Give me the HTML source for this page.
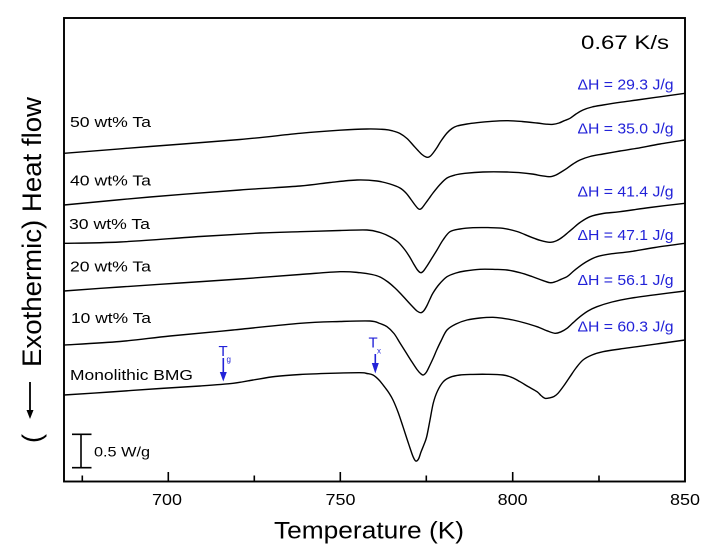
<!DOCTYPE html>
<html><head><meta charset="utf-8"><style>
html,body{margin:0;padding:0;background:#fff;}
svg{display:block;}
text{font-family:"Liberation Sans",Arial,sans-serif;}
</style></head><body>
<svg id="chart" width="718" height="552" viewBox="0 0 718 552" xmlns="http://www.w3.org/2000/svg">
<rect width="718" height="552" fill="#fff"/>
<!-- frame -->
<rect x="64" y="18" width="621" height="463.5" fill="none" stroke="#000" stroke-width="1.9"/>
<!-- ticks -->
<g stroke="#000" stroke-width="1.6">
<line x1="82.3" y1="481" x2="82.3" y2="475.5"/>
<line x1="168.3" y1="481" x2="168.3" y2="472"/>
<line x1="254.3" y1="481" x2="254.3" y2="475.5"/>
<line x1="340.3" y1="481" x2="340.3" y2="472"/>
<line x1="426.3" y1="481" x2="426.3" y2="475.5"/>
<line x1="512.7" y1="481" x2="512.7" y2="472"/>
<line x1="599" y1="481" x2="599" y2="475.5"/>
</g>
<g font-size="16" fill="#000" text-anchor="middle">
<text x="167" y="505" textLength="30" lengthAdjust="spacingAndGlyphs">700</text>
<text x="340.5" y="505" textLength="30" lengthAdjust="spacingAndGlyphs">750</text>
<text x="512.7" y="505" textLength="30" lengthAdjust="spacingAndGlyphs">800</text>
<text x="685" y="505" textLength="30" lengthAdjust="spacingAndGlyphs">850</text>
</g>
<text x="274" y="538.5" font-size="24" textLength="190" lengthAdjust="spacingAndGlyphs">Temperature (K)</text>

<!-- y label -->
<g transform="translate(41,445) rotate(-90)">
<text x="2" y="0" font-size="27">(</text>
<line x1="33" y1="-11" x2="63" y2="-11" stroke="#000" stroke-width="1.8"/>
<polygon points="26,-11 35,-14.5 35,-7.5" fill="#000"/>
<text x="78" y="0" font-size="27" textLength="270" lengthAdjust="spacingAndGlyphs">Exothermic) Heat flow</text>
</g>

<!-- rate -->
<text x="581" y="49" font-size="19.5" textLength="88" lengthAdjust="spacingAndGlyphs">0.67 K/s</text>

<!-- series labels -->
<g font-size="15" fill="#000">
<text x="70" y="127" textLength="81" lengthAdjust="spacingAndGlyphs">50 wt% Ta</text>
<text x="70" y="185.5" textLength="81" lengthAdjust="spacingAndGlyphs">40 wt% Ta</text>
<text x="69" y="229" textLength="81" lengthAdjust="spacingAndGlyphs">30 wt% Ta</text>
<text x="70" y="271.5" textLength="81" lengthAdjust="spacingAndGlyphs">20 wt% Ta</text>
<text x="71" y="323" textLength="80" lengthAdjust="spacingAndGlyphs">10 wt% Ta</text>
<text x="70" y="380" textLength="123" lengthAdjust="spacingAndGlyphs">Monolithic BMG</text>
</g>

<!-- dH labels -->
<g font-size="15" fill="#2222d8">
<text x="577.5" y="89.5" textLength="96" lengthAdjust="spacingAndGlyphs">ΔH = 29.3 J/g</text>
<text x="577.5" y="133.3" textLength="96" lengthAdjust="spacingAndGlyphs">ΔH = 35.0 J/g</text>
<text x="577.5" y="196.7" textLength="96" lengthAdjust="spacingAndGlyphs">ΔH = 41.4 J/g</text>
<text x="577.5" y="240" textLength="96" lengthAdjust="spacingAndGlyphs">ΔH = 47.1 J/g</text>
<text x="577.5" y="285" textLength="96" lengthAdjust="spacingAndGlyphs">ΔH = 56.1 J/g</text>
<text x="577.5" y="331.7" textLength="96" lengthAdjust="spacingAndGlyphs">ΔH = 60.3 J/g</text>
</g>

<!-- Tg / Tx -->
<g fill="#2222d8">
<text x="218.5" y="356" font-size="15">T</text>
<text x="226.5" y="362" font-size="8">g</text>
<line x1="223.3" y1="358" x2="223.3" y2="374" stroke="#2222d8" stroke-width="1.6"/>
<polygon points="219.8,372 226.8,372 223.3,381.5"/>
<text x="368.5" y="347.3" font-size="15">T</text>
<text x="377" y="353.5" font-size="8">x</text>
<line x1="375.3" y1="354" x2="375.3" y2="365" stroke="#2222d8" stroke-width="1.6"/>
<polygon points="371.8,363 378.8,363 375.3,373.5"/>
</g>

<!-- scale bar -->
<g stroke="#000" stroke-width="1.6">
<line x1="81" y1="434.3" x2="81" y2="467.7"/>
<line x1="72" y1="434.3" x2="91.5" y2="434.3"/>
<line x1="72" y1="467.7" x2="91.5" y2="467.7"/>
</g>
<text x="94" y="456.5" font-size="14" textLength="56" lengthAdjust="spacingAndGlyphs">0.5 W/g</text>

<!-- curves -->
<g id="curves" fill="none" stroke="#000" stroke-width="1.4" stroke-linejoin="round" stroke-linecap="round">
<polyline points="64,153.3 150,146.5 240,139.5 300,133.3 340,130.2 367,129 385,129.5 393,131 400,133.5 407,138.5 413,145 418,150.5 422,154.5 425.5,156.8 428,157.3 430.5,156 433.5,152.5 437,147.5 441,141 447,133 452,128.5 457,126 467,124 477,122.7 492,121.3 507,120.7 522,121.5 537,123 547,124.2 553,124.3 559,123 564,120.8 570,118.3 576,114 583,110 592,107 603,105 620,102.3 637,100 660,96.8 685,93.3"/>
<polyline points="64,205 150,197 240,190 300,186 330,182.5 357,180 377,181 390,184 400,188 406,193 411,199.5 415,205 418,208.5 420,209.3 422,208 425,204 429,198.5 433,193 440,184.5 447,178 455,175 465,173.3 483,172 507,172 520,172.7 532,174 542,175.8 550,176.7 556,175 562,171.5 567,168.3 573,164 580,160 590,156.5 603,154 620,151 637,148.3 660,144 685,140"/>
<polyline points="64,243.3 120,242 200,236.5 260,233 300,231.7 340,230.5 367,230 380,232.5 390,236.7 398,242 405,250 410,257.5 414,264.5 417.5,270 420.7,272.7 423.5,271 427,266 432,258 437,250 443,240 450,231.7 460,229 473,227.7 488,227.6 503,228.3 517,231.5 530,236.7 540,240.3 550,242.3 557,240.5 563,236.7 568,232.5 573,228.3 580,222.5 590,216.7 603,213.5 620,211.7 650,207.5 685,203.3"/>
<polyline points="64,291 120,287 180,283 240,279 300,274.5 340,271.7 360,272.7 372,274.5 380,277 388,282 395,288 400,293 406,299.5 412,306 417,311 421,312.7 424,310.5 427,305.5 430,299 433,293 439,284.5 447,276.7 456,273 465,271 480,269.3 495,269.4 507,270 520,272.7 532,276.5 540,279.5 550,282.7 556,281.5 561,279.3 567,276.7 572,272.5 577,268.3 586,262 597,256.7 612,253.7 630,251.7 655,247.5 685,243.3"/>
<polyline points="64,345 120,341.5 170,336 233,330 300,323.3 340,321.5 370,321 380,323.5 387,326.7 394,333.5 400,343 406,352.5 412,362 417,369.5 420.5,373.5 423.3,375 426.5,372 430,365 433.5,357.5 436.7,350 441,341 447,330 456,324 467,320 480,318 493,317.3 503,318.3 513,320 525,323 537,326.7 547,330.8 555,333.3 561,331.8 567,328.3 573,322.8 580,316.7 588,311 597,306.7 612,302 630,298.3 655,294.8 685,291"/>
<polyline points="64,395 110,392 160,388.5 200,386 233,383.3 253,380 275,376.5 300,374.5 330,373.3 360,372.7 367,373.5 373,375 379,380 385,387.5 389,393 393,400 398,412 403,426.7 407,439 410,448 413,456.5 415.7,461 418.5,459 421,452 424,444.5 426.7,436.7 430,420 433.3,403 437.5,391 443.3,381.7 450,377.3 460,375 473,374.4 486.7,374.3 503,375 512,377.5 520,381.7 528,386.5 537,391.7 541,395.5 545,398.3 550,397.8 554,396.5 558,393.3 564,385.5 570,376.7 576,368 583,360 592,355 603,351.7 620,349 637,346.7 660,343.5 685,340"/>
</g>
</svg>
<script>
(function(){
  try{
    var NS="http://www.w3.org/2000/svg";
    var g=document.getElementById("curves");
    var pls=Array.prototype.slice.call(g.getElementsByTagName("polyline"));
    pls.forEach(function(pl){
      var raw=pl.getAttribute("points").trim().split(/\s+/).map(function(s){var a=s.split(",");return [parseFloat(a[0]),parseFloat(a[1])];});
      var n=raw.length;
      if(n<3)return;
      var d="M"+raw[0][0]+","+raw[0][1];
      for(var i=0;i<n-1;i++){
        var p0=raw[i>0?i-1:0],p1=raw[i],p2=raw[i+1],p3=raw[i+2<n?i+2:n-1];
        var c1x=p1[0]+(p2[0]-p0[0])/6,c1y=p1[1]+(p2[1]-p0[1])/6;
        var c2x=p2[0]-(p3[0]-p1[0])/6,c2y=p2[1]-(p3[1]-p1[1])/6;
        d+=" C"+c1x.toFixed(2)+","+c1y.toFixed(2)+" "+c2x.toFixed(2)+","+c2y.toFixed(2)+" "+p2[0]+","+p2[1];
      }
      var path=document.createElementNS(NS,"path");
      path.setAttribute("d",d);
      g.insertBefore(path,pl);
      g.removeChild(pl);
    });
  }catch(e){}
})();
</script>
</body></html>
